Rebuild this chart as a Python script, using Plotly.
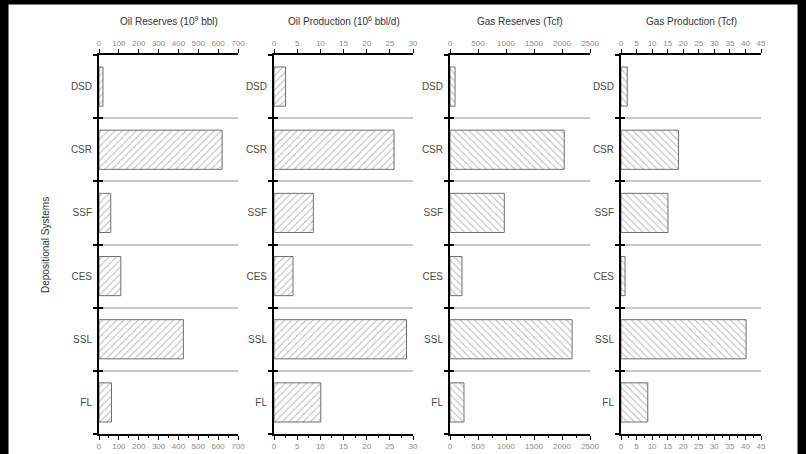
import plotly.graph_objects as go

categories = ["DSD", "CSR", "SSF", "CES", "SSL", "FL"]

oil_reserves = [20, 620, 59, 110, 425, 63]
oil_production = [2.5, 25.9, 8.5, 4.1, 28.6, 10.1]
gas_reserves = [90, 2040, 970, 214, 2180, 250]
gas_production = [2.0, 18.5, 15.1, 1.3, 40.2, 8.6]

titles = ["Oil Reserves (10<sup>9</sup> bbl)", "Oil Production (10<sup>6</sup> bbl/d)",
          "Gas Reserves (Tcf)", "Gas Production (Tcf)"]
ranges = [700, 30, 2500, 45]
dticks = [100, 5, 500, 5]
hatches = ["/", "/", "\\", "\\"]
series = [oil_reserves, oil_production, gas_reserves, gas_production]

W, H = 806, 454
x_px = [(99, 238), (274, 413), (450, 590), (621, 761)]
top_px, bot_px = 55, 434
ydom = [1 - bot_px / H, 1 - top_px / H]

FONT = "Arial, Liberation Sans, sans-serif"
fig = go.Figure()
layout = dict(
    width=W, height=H, margin=dict(l=0, r=0, t=0, b=0),
    paper_bgcolor="white", plot_bgcolor="white", showlegend=False,
    bargap=0.38, font=dict(family=FONT),
)

for i, vals in enumerate(series):
    n = i + 1
    xs = "" if n == 1 else str(n)
    xo = str(n + 4)
    fig.add_trace(go.Bar(
        x=vals, y=categories, orientation="h",
        xaxis="x" + xs, yaxis="y" + xs,
        marker=dict(color="white",
                    line=dict(color="#707070", width=1),
                    pattern=dict(shape=hatches[i], fgcolor="#707070", bgcolor="white",
                                 size=5, solidity=0.2)),
        hoverinfo="x+y",
    ))
    # invisible trace activating the top axis and the inner boundary ticks
    fig.add_trace(go.Scatter(
        x=vals, y=categories, mode="markers", marker=dict(opacity=0),
        xaxis="x" + xo, yaxis="y" + xo, hoverinfo="skip",
    ))
    dom = [x_px[i][0] / W, x_px[i][1] / W]
    common_x = dict(
        range=[0, ranges[i]], dtick=dticks[i], tick0=0, showgrid=False, zeroline=False,
        showline=True, linecolor="black", linewidth=1.5,
        ticks="outside", ticklen=4, tickcolor="black", tickwidth=1,
        tickfont=dict(size=8, color="#8c8c8c", family=FONT), automargin=False,
        fixedrange=True,
    )
    layout["xaxis" + xs] = dict(common_x, domain=dom, anchor="y" + xs, side="bottom",
                                 minor=dict(ticks="outside", ticklen=2, tickcolor="black",
                                            dtick=dticks[i] / 2, showgrid=False))
    layout["xaxis" + xo] = dict(common_x, anchor="y" + xo, side="top",
                                overlaying="x" + xs, matches="x" + xs)
    common_y = dict(
        categoryorder="array", categoryarray=categories[::-1], range=[-0.5, 5.5],
        tickson="boundaries", ticklen=4, tickcolor="black", tickwidth=1.5,
        zeroline=False, automargin=False, fixedrange=True,
    )
    layout["yaxis" + xs] = dict(
        common_y, domain=ydom, anchor="x" + xs, ticks="outside",
        showgrid=True, gridcolor="#c8c8c8", gridwidth=2,
        showline=True, linecolor="black", linewidth=2,
        tickfont=dict(size=10, color="#4a4a4a", family=FONT),
        ticklabelstandoff=3,
    )
    layout["yaxis" + xo] = dict(
        common_y, anchor="x" + xs, overlaying="y" + xs, matches="y" + xs,
        ticks="inside", showgrid=False, showline=False, showticklabels=False,
    )

annotations = []
for i, t in enumerate(titles):
    cx = (x_px[i][0] + x_px[i][1]) / 2 / W
    annotations.append(dict(text=t, x=cx, y=1 - 21 / H, xref="paper", yref="paper",
                            showarrow=False, xanchor="center", yanchor="middle",
                            font=dict(size=10, color="#333333", family=FONT)))
annotations.append(dict(text="Depositional Systems", x=45 / W, y=1 - 245 / H,
                        xref="paper", yref="paper", showarrow=False, textangle=-90,
                        xanchor="center", yanchor="middle",
                        font=dict(size=10, color="#333333", family=FONT)))
layout["annotations"] = annotations

# black frame around the figure
frame = [
    (0, 8, 0, H),
    (0, W, 0, 4),
    (798, W, 0, H),
]
layout["shapes"] = [
    dict(type="rect", xref="paper", yref="paper", layer="above",
         x0=a / W, x1=b / W, y0=1 - d / H, y1=1 - c / H,
         fillcolor="black", line=dict(color="black", width=1))
    for a, b, c, d in frame
]

fig.update_layout(**layout)
fig.write_html("out.html", config={"displayModeBar": False},
               post_script="document.body.style.margin='0';document.body.style.overflow='hidden';")
